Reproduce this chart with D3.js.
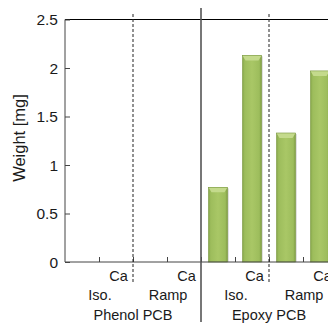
<!DOCTYPE html>
<html><head><meta charset="utf-8">
<script src="https://cdn.jsdelivr.net/npm/d3@7"></script>
<style>body{margin:0;background:#fff}svg{display:block}text{font-family:"Liberation Sans",Arial,sans-serif;fill:#1a1a1a}</style>
</head><body><svg id="c" width="328" height="324"></svg>
<script>
const groups = ["Phenol PCB", "Epoxy PCB"];
const methods = ["Iso.", "Ramp"];
const subLabels = ["", "Ca"];
const values = [0, 0, 0, 0, 0.77, 2.13, 1.33, 1.97];
const yTicks = [0, 0.5, 1, 1.5, 2, 2.5];

const cats = [];
groups.forEach(g => methods.forEach(m => subLabels.forEach(s => cats.push({g, m, s}))));
cats.forEach((c, i) => c.v = values[i]);
cats.forEach((c, i) => c.id = i);

const svg = d3.select("#c");
const L = 65, R = 337, T = 19.5, B = 262;
const x = d3.scaleBand().domain(cats.map(c => c.id)).range([L, R]).paddingInner(0.44).paddingOuter(0.22);
const step = x.step();
const y = d3.scaleLinear().domain([0, 2.5]).range([B, T]);

const defs = svg.append("defs");
const grad = defs.append("linearGradient").attr("id", "bg").attr("x1", 0).attr("x2", 1).attr("y1", 0).attr("y2", 0);
[[0, "#86a64a"], [0.12, "#9dbd5c"], [0.5, "#a9c766"], [0.88, "#9dbd5c"], [1, "#7f9c44"]].forEach(s =>
  grad.append("stop").attr("offset", s[0]).attr("stop-color", s[1]));

// top line
svg.append("line").attr("x1", L).attr("x2", 328).attr("y1", T).attr("y2", T).attr("stroke", "#000").attr("stroke-width", 1.2);

// bars
const bars = svg.append("g");
cats.filter(c => c.v > 0).forEach(c => {
  const bx = x(c.id), bw = x.bandwidth(), by = y(c.v), bh = B - by;
  bars.append("rect").attr("x", bx + 1.5).attr("y", by + 1).attr("width", bw).attr("height", bh - 1).attr("fill", "#000").attr("opacity", 0.12);
  bars.append("rect").attr("x", bx).attr("y", by).attr("width", bw).attr("height", bh).attr("fill", "url(#bg)");
  bars.append("path").attr("d", `M${bx},${by}H${bx + bw}L${bx + bw - 3},${by + 5}H${bx + 3}Z`).attr("fill", "#c4da8c");
  bars.append("rect").attr("x", bx).attr("y", by).attr("width", bw).attr("height", bh).attr("fill", "none").attr("stroke", "#7a9840").attr("stroke-width", 0.6);
});

// y axis
const yAxis = d3.axisRight(y).tickValues(yTicks).tickSize(5).tickFormat("");
const ya = svg.append("g").attr("transform", `translate(${L},0)`).call(yAxis);
ya.select(".domain").attr("stroke", "#444").attr("d", `M0,${T}V${B}`);
ya.selectAll(".tick line").attr("stroke", "#444");
svg.append("g").selectAll("text").data(yTicks).join("text")
  .attr("x", 58).attr("y", d => y(d)).attr("dy", "0.36em").attr("text-anchor", "end")
  .style("font-size", "15.5px").text(d => d);

svg.append("text").attr("transform", `translate(24.5,138) rotate(-90)`).attr("text-anchor", "middle")
  .style("font-size", "16.5px").text("Weight [mg]");

// x axis
const xAxis = d3.axisTop(d3.scaleLinear().domain([0, cats.length]).range([L, L + step * cats.length]))
  .tickValues(d3.range(1, cats.length)).tickSize(5).tickFormat("");
const xa = svg.append("g").attr("transform", `translate(0,${B})`).call(xAxis);
xa.select(".domain").attr("stroke", "#444").attr("d", `M${L},0H328`);
xa.selectAll(".tick line").attr("stroke", "#444");

// sub labels
svg.append("g").selectAll("text").data(cats.filter(c => c.s)).join("text")
  .attr("x", c => x(c.id) + x.bandwidth() / 2 + 2.5).attr("y", 281).attr("text-anchor", "middle")
  .style("font-size", "14.5px").text(c => c.s);

// method labels
const mGroups = d3.groups(cats, c => c.g + "|" + c.m);
svg.append("g").selectAll("text").data(mGroups).join("text")
  .attr("x", d => (x(d[1][0].id) - x.paddingOuter() * step + x(d[1][d[1].length - 1].id) + x.bandwidth() + x.paddingOuter() * step) / 2 + 1)
  .attr("y", 300).attr("text-anchor", "middle").style("font-size", "14.5px").text(d => d[1][0].m);

// group labels
const gGroups = d3.groups(cats, c => c.g);
svg.append("g").selectAll("text").data(gGroups).join("text")
  .attr("x", d => (x(d[1][0].id) - x.paddingOuter() * step + x(d[1][d[1].length - 1].id) + x.bandwidth() + x.paddingOuter() * step) / 2)
  .attr("y", 320).attr("text-anchor", "middle").style("font-size", "14.5px").text(d => d[0]);

// dashed separators between methods
const mSep = mGroups.filter((d, i) => i % 2 === 0).map(d => x(d[1][d[1].length - 1].id) + x.bandwidth() + x.paddingOuter() * step);
svg.append("g").selectAll("line").data(mSep).join("line")
  .attr("x1", d => d).attr("x2", d => d).attr("y1", 14).attr("y2", 284)
  .attr("stroke", "#222").attr("stroke-width", 1).attr("stroke-dasharray", "3,2");

// solid separator between groups
const gSep = x(gGroups[1][1][0].id) - x.paddingOuter() * step;
svg.append("line").attr("x1", gSep).attr("x2", gSep).attr("y1", 8).attr("y2", 322)
  .attr("stroke", "#555").attr("stroke-width", 1.6);
</script></body></html>
